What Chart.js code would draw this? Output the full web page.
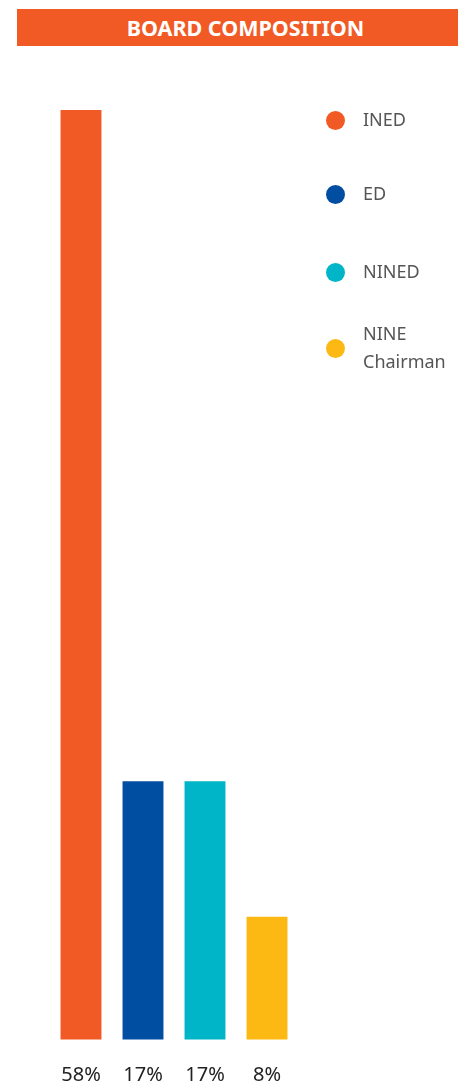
<!DOCTYPE html>
<html>
<head>
<meta charset="utf-8">
<script src="https://cdn.jsdelivr.net/npm/chart.js@4"></script>
<style>
  body { margin: 0; background: #fff; font-family: "Noto Sans", sans-serif; }
  #wrap { position: relative; width: 460px; height: 1085px; overflow: hidden; }
  #title {
    position: absolute; left: 17px; top: 9px; width: 425px; height: 37px; padding-left: 16px;
    background: #F15A24; color: #fff; font-weight: bold; font-size: 21.5px;
    line-height: 37px; text-align: center;
  }
  #chart { position: absolute; left: 0; top: 0; }
  .item { position: absolute; left: 326px; font-size: 18px; line-height: 28px; color: #555; }
  .dot { position: absolute; width: 19px; height: 19px; border-radius: 50%; left: 0; }
  .txt { position: absolute; left: 37px; white-space: nowrap; }
</style>
</head>
<body>
<div id="wrap">
  <canvas id="chart" width="460" height="1085"></canvas>
  <div id="title">BOARD COMPOSITION</div>
  <div id="legend"></div>
</div>
<script>
// board make-up, share of seats in %
const categories = ['INED', 'ED', 'NINED', 'NINE Chairman'];
const legendLines = [['INED'], ['ED'], ['NINED'], ['NINE', 'Chairman']];
const shares = [58.3, 16.7, 16.7, 8.3];
const tickLabels = ['58%', '17%', '17%', '8%'];
const colors = ['#F15A24', '#004EA2', '#00B5C8', '#FDB913'];
const legendY = [120, 194, 272, 348];

function buildLegend() {
    let el = document.querySelector('#legend');
    for (let i = 0; i < categories.length; i++) {
        let lines = legendLines[i];
        let item = document.createElement('div');
        item.className = 'item';
        item.style.top = legendY[i] + 'px';

        let dot = document.createElement('div');
        dot.className = 'dot';
        dot.style.background = colors[i];
        dot.style.top = '-9.5px';
        item.appendChild(dot);

        let txt = document.createElement('div');
        txt.className = 'txt';
        txt.style.top = (-14.6 - (lines.length - 1) * 14) + 'px';
        txt.innerHTML = lines.join('<br>');
        item.appendChild(txt);
        el.appendChild(item);
    }
}

new Chart(document.querySelector('#chart'), {
    type: 'bar',
    data: {
        labels: tickLabels,
        datasets: [{
            label: 'Board composition',
            data: shares,
            backgroundColor: colors,
            categoryPercentage: 1,
            barPercentage: 0.66
        }]
    },
    options: {
        responsive: false,
        animation: false,
        layout: { padding: { left: 50, right: 162, top: 110, bottom: 0 } },
        plugins: {
            legend: { display: false },
            tooltip: { enabled: false }
        },
        scales: {
            x: {
                grid: { display: false },
                border: { display: false },
                ticks: {
                    color: '#222',
                    padding: 16,
                    font: { family: 'Noto Sans', size: 20 }
                },
                afterFit: function (scale) {
                    scale.height = 45.5;
                }
            },
            y: { display: false, min: 0.7, max: 58.3 }
        }
    }
});

buildLegend();
</script>
</body>
</html>
